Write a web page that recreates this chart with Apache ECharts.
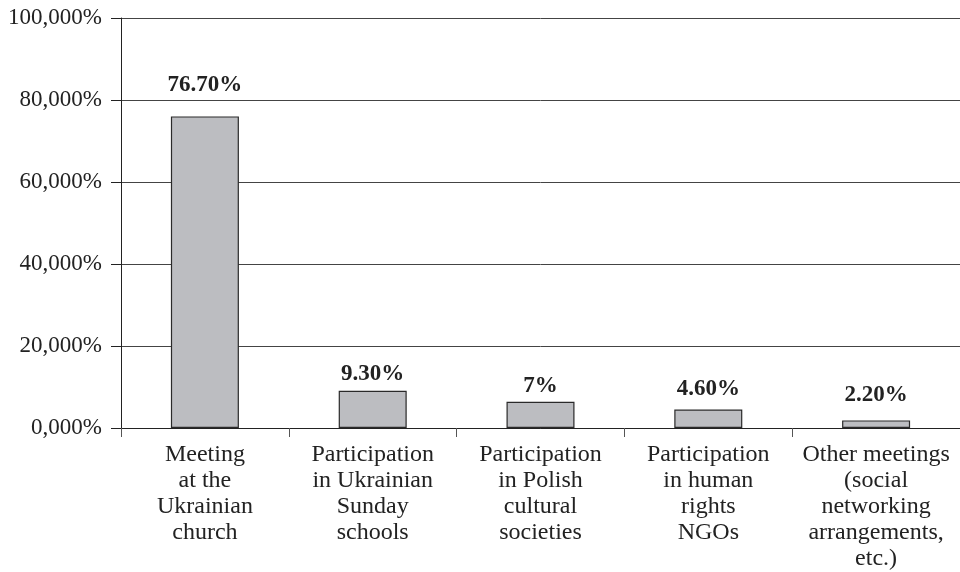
<!DOCTYPE html>
<html>
<head>
<meta charset="utf-8">
<script src="https://cdn.jsdelivr.net/npm/echarts@6/dist/echarts.min.js"></script>
<style>
  html, body { margin: 0; padding: 0; background: #fff; }
  #main { width: 960px; height: 572px; }
</style>
</head>
<body>
<div id="main"></div>
<script>
// categories (x axis)
var categories = [
    'Meeting\nat the\nUkrainian\nchurch',
    'Participation\nin Ukrainian\nSunday\nschools',
    'Participation\nin Polish\ncultural\nsocieties',
    'Participation\nin human\nrights\nNGOs',
    'Other meetings\n(social\nnetworking\narrangements,\netc.)'
];
// bar heights as drawn
var values = [76.0, 9.1, 6.4, 4.5, 1.85];
// printed labels above bars
var barLabels = ['76.70%', '9.30%', '7%', '4.60%', '2.20%'];
// y ticks
var yTicks = [0, 20, 40, 60, 80, 100];

var serif = '"Liberation Serif", "DejaVu Serif", serif';
// label gap above each bar (it's not uniform in the source)
var gaps = [18, 4, 3, 7, 12];

var chart = echarts.init(document.getElementById('main'));

var seriesData = values.map(function (v, i) {
    return {
        value: v,
        label: { formatter: barLabels[i], distance: gaps[i] }
    };
});

chart.setOption({
    animation: false,
    backgroundColor: '#fff',
    grid: { left: 121, right: -2, top: 18, bottom: 141, containLabel: false },
    xAxis: {
        type: 'category',
        data: categories,
        axisLine: { lineStyle: { color: '#222', width: 1 } },
        axisTick: { show: true, length: 9, lineStyle: { color: '#555' } },
        axisLabel: {
            interval: 0,
            margin: 14,
            fontFamily: serif,
            fontSize: 24,
            lineHeight: 26,
            color: '#222'
        }
    },
    yAxis: {
        type: 'value',
        min: yTicks[0],
        max: yTicks[yTicks.length - 1],
        interval: 20,
        axisLine: { show: true, lineStyle: { color: '#222', width: 1 } },
        axisTick: { show: true, length: 10, lineStyle: { color: '#222' } },
        splitLine: { show: true, lineStyle: { color: '#444', width: 1 } },
        axisLabel: {
            margin: 19,
            fontFamily: serif,
            fontSize: 23,
            color: '#222',
            formatter: function (v) {
                return v.toFixed(3).replace('.', ',') + '%';
            }
        }
    },
    series: [{
        type: 'bar',
        data: seriesData,
        barWidth: 68,
        itemStyle: { color: '#bcbdc1', borderColor: '#2a2a2a', borderWidth: 1.2 },
        label: {
            show: true,
            position: 'top',
            fontFamily: serif,
            fontWeight: 'bold',
            fontSize: 23,
            lineHeight: 26,
            color: '#222'
        }
    }]
});
</script>
</body>
</html>
